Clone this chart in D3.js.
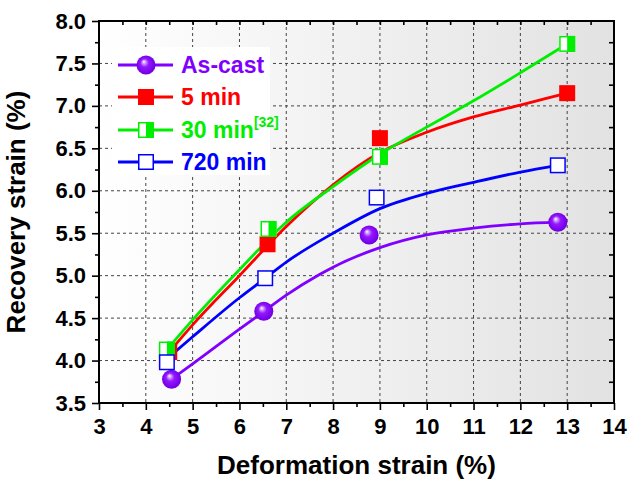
<!DOCTYPE html>
<html>
<head>
<meta charset="UTF-8">
<style>
    body { margin: 0; background: #fff; }
    text { font-family: Arial, "Liberation Sans", sans-serif; font-weight: bold; }
</style>
</head>
<body>
<div id="chart"></div>
<script src="https://d3js.org/d3.v7.min.js"></script>
<script>
    // measured points (deformation strain %, recovery strain %)
    const asCastX = [4.55, 6.52, 8.77, 12.8];
    const asCastY = [3.78, 4.58, 5.48, 5.63];
    const min5X = [4.5, 6.6, 9.0, 13.0];
    const min5Y = [4.1, 5.37, 6.62, 7.15];
    const min30X = [4.45, 6.62, 9.0, 13.0];
    const min30Y = [4.13, 5.55, 6.4, 7.73];
    const min720X = [4.45, 6.55, 8.93, 12.8];
    const min720Y = [3.98, 4.97, 5.92, 6.3];

    // fitted curves
    const asCastFitX = [4.55, 5, 6, 6.5, 7, 7.7, 8, 9, 10, 11, 12, 12.8];
    const asCastFitY = [3.78, 3.96, 4.37, 4.57, 4.77, 5.01, 5.10, 5.33, 5.48, 5.56, 5.61, 5.63];
    const min5FitX = [4.5, 5, 6, 7, 8, 9, 10, 11, 12, 13];
    const min5FitY = [4.10, 4.42, 5.0, 5.58, 6.07, 6.45, 6.69, 6.87, 7.01, 7.15];
    const min30FitX = [4.45, 5, 6, 7, 8, 9, 10, 11, 12, 13];
    const min30FitY = [4.13, 4.48, 5.07, 5.63, 6.05, 6.43, 6.75, 7.06, 7.39, 7.73];
    const min720FitX = [4.45, 5, 6, 6.55, 7, 8, 9, 10, 11, 12, 12.8];
    const min720FitY = [4.02, 4.28, 4.74, 4.97, 5.16, 5.50, 5.79, 5.97, 6.10, 6.22, 6.30];

    const seriesNames = ["As-cast", "5 min", "30 min", "720 min"];
    const seriesColors = ["#8000ff", "#ff0000", "#00ee00", "#0000ff"];

    const xTicks = [3, 4, 5, 6, 7, 8, 9, 10, 11, 12, 13, 14];
    const yTicks = [3.5, 4.0, 4.5, 5.0, 5.5, 6.0, 6.5, 7.0, 7.5, 8.0];

    const W = 628, H = 483;
    const margin = { top: 21, right: 14, bottom: 80, left: 99 };

    const svg = d3.select("#chart").append("svg")
        .attr("width", W)
        .attr("height", H);

    const x = d3.scaleLinear().domain([3, 14]).range([margin.left, W - margin.right]);
    const y = d3.scaleLinear().domain([3.5, 8]).range([H - margin.bottom, margin.top]);

    const defs = svg.append("defs");
    const bg = defs.append("linearGradient").attr("id", "bg");
    bg.append("stop").attr("offset", "0%").attr("stop-color", "#ffffff");
    bg.append("stop").attr("offset", "100%").attr("stop-color", "#e2e2e2");

    const sph = defs.append("radialGradient").attr("id", "sphere")
        .attr("cx", "50%").attr("cy", "50%").attr("r", "55%")
        .attr("fx", "38%").attr("fy", "32%");
    sph.append("stop").attr("offset", "0%").attr("stop-color", "#ffffff");
    sph.append("stop").attr("offset", "14%").attr("stop-color", "#d6a8ff");
    sph.append("stop").attr("offset", "40%").attr("stop-color", "#9418ff");
    sph.append("stop").attr("offset", "85%").attr("stop-color", "#7600e8");
    sph.append("stop").attr("offset", "100%").attr("stop-color", "#5c00b8");

    // plot background
    svg.append("rect")
        .attr("x", x(3)).attr("y", y(8))
        .attr("width", x(14) - x(3)).attr("height", y(3.5) - y(8))
        .attr("fill", "url(#bg)");

    // dashed grid
    const grid = svg.append("g")
        .attr("stroke", "#444")
        .attr("stroke-width", 1)
        .attr("stroke-dasharray", "3,3");
    grid.selectAll(".gx").data(xTicks.slice(1, -1)).enter().append("line")
        .attr("x1", d => x(d)).attr("x2", d => x(d))
        .attr("y1", y(8)).attr("y2", y(3.5));
    grid.selectAll(".gy").data(yTicks.slice(1, -1)).enter().append("line")
        .attr("x1", x(3)).attr("x2", x(14))
        .attr("y1", d => y(d)).attr("y2", d => y(d));

    // axes
    function styleAxis(g) {
        g.select(".domain").remove();
        g.selectAll(".tick line").attr("stroke", "#000").attr("stroke-width", 1.6);
        g.selectAll("text").attr("fill", "#000").style("font-size", "22px");
    }
    svg.append("g").attr("transform", `translate(${x(3)},0)`)
        .call(d3.axisLeft(y).tickValues(yTicks).tickSize(7).tickPadding(6).tickFormat(d3.format(".1f")))
        .call(styleAxis);
    svg.append("g").attr("transform", `translate(${x(3)},0)`)
        .call(d3.axisLeft(y).tickValues(d3.range(3.75, 8, 0.5)).tickSize(4).tickFormat(""))
        .call(styleAxis);
    svg.append("g").attr("transform", `translate(0,${y(3.5)})`)
        .call(d3.axisBottom(x).tickValues(xTicks).tickSize(7).tickPadding(8))
        .call(styleAxis);
    svg.append("g").attr("transform", `translate(0,${y(3.5)})`)
        .call(d3.axisBottom(x).tickValues(d3.range(3.5, 14, 1)).tickSize(4).tickFormat(""))
        .call(styleAxis);
    svg.append("g").attr("transform", `translate(0,${y(8)})`)
        .call(d3.axisTop(x).tickValues(d3.range(3.5, 14, 0.5)).tickSize(-4).tickFormat(""))
        .call(styleAxis);
    svg.append("g").attr("transform", `translate(${x(14)},0)`)
        .call(d3.axisRight(y).tickValues(d3.range(3.75, 8, 0.25)).tickSize(-5).tickFormat(""))
        .call(styleAxis);

    // frame
    svg.append("rect")
        .attr("x", x(3)).attr("y", y(8))
        .attr("width", x(14) - x(3)).attr("height", y(3.5) - y(8))
        .attr("fill", "none").attr("stroke", "#000").attr("stroke-width", 2);

    // axis titles
    svg.append("text")
        .attr("x", (x(3) + x(14)) / 2).attr("y", 474)
        .attr("text-anchor", "middle")
        .style("font-size", "26px")
        .text("Deformation strain (%)");
    svg.append("text")
        .attr("transform", `translate(25,${(y(3.5) + y(8)) / 2}) rotate(-90)`)
        .attr("text-anchor", "middle")
        .style("font-size", "26px")
        .text("Recovery strain (%)");

    // fitted lines
    const fits = [
        d3.zip(asCastFitX, asCastFitY),
        d3.zip(min5FitX, min5FitY),
        d3.zip(min30FitX, min30FitY),
        d3.zip(min720FitX, min720FitY)
    ];
    const line = d3.line()
        .x(d => x(d[0]))
        .y(d => y(d[1]))
        .curve(d3.curveMonotoneX);
    svg.append("g").selectAll("path")
        .data(fits)
        .enter().append("path")
        .attr("d", line)
        .attr("fill", "none")
        .attr("stroke", (d, i) => seriesColors[i])
        .attr("stroke-width", 2.8);

    // marker drawing
    const S = 16;
    function drawMarker(g, i) {
        if (i === 0) {
            g.append("circle").attr("r", 9.5).attr("fill", "url(#sphere)");
        } else if (i === 1) {
            g.append("rect").attr("x", -S / 2).attr("y", -S / 2).attr("width", S).attr("height", S)
                .attr("fill", "#ff0000");
        } else if (i === 2) {
            g.append("rect").attr("x", -S / 2).attr("y", -S / 2).attr("width", S).attr("height", S)
                .attr("fill", "#fff");
            g.append("rect").attr("x", 0).attr("y", -S / 2).attr("width", S / 2).attr("height", S)
                .attr("fill", "#00ee00");
            g.append("rect").attr("x", -S / 2 + 0.75).attr("y", -S / 2 + 0.75).attr("width", S - 1.5).attr("height", S - 1.5)
                .attr("fill", "none").attr("stroke", "#00ee00").attr("stroke-width", 1.5);
        } else {
            g.append("rect").attr("x", -S / 2 + 0.75).attr("y", -S / 2 + 0.75).attr("width", S - 1.5).attr("height", S - 1.5)
                .attr("fill", "#fff").attr("stroke", "#0000ff").attr("stroke-width", 1.5);
        }
    }

    const points = [
        d3.zip(asCastX, asCastY),
        d3.zip(min5X, min5Y),
        d3.zip(min30X, min30Y),
        d3.zip(min720X, min720Y)
    ];
    points.forEach((pts, i) => {
        svg.append("g").selectAll("g")
            .data(pts)
            .enter().append("g")
            .attr("transform", d => `translate(${x(d[0])},${y(d[1])})`)
            .each(function () { drawMarker(d3.select(this), i); });
    });

    // legend
    const legendY = [65, 97, 130, 162];
    svg.append("rect")
        .attr("x", 112).attr("y", 47).attr("width", 158).attr("height", 128)
        .attr("fill", "#fff");
    const legend = svg.selectAll(".legend")
        .data(seriesNames)
        .enter().append("g")
        .attr("class", "legend")
        .attr("transform", (d, i) => `translate(0,${legendY[i]})`);
    legend.append("line")
        .attr("x1", 118).attr("x2", 173)
        .attr("stroke", (d, i) => seriesColors[i])
        .attr("stroke-width", 2.8);
    legend.append("g")
        .attr("transform", "translate(146,0)")
        .each(function (d, i) { drawMarker(d3.select(this), i); });
    const lt = legend.append("text")
        .attr("x", 181).attr("y", 8)
        .attr("fill", (d, i) => seriesColors[i])
        .style("font-size", "23px")
        .text(d => d);
    lt.filter((d, i) => i === 2).append("tspan")
        .attr("dy", -11)
        .style("font-size", "14px")
        .text("[32]");
</script>
</body>
</html>
